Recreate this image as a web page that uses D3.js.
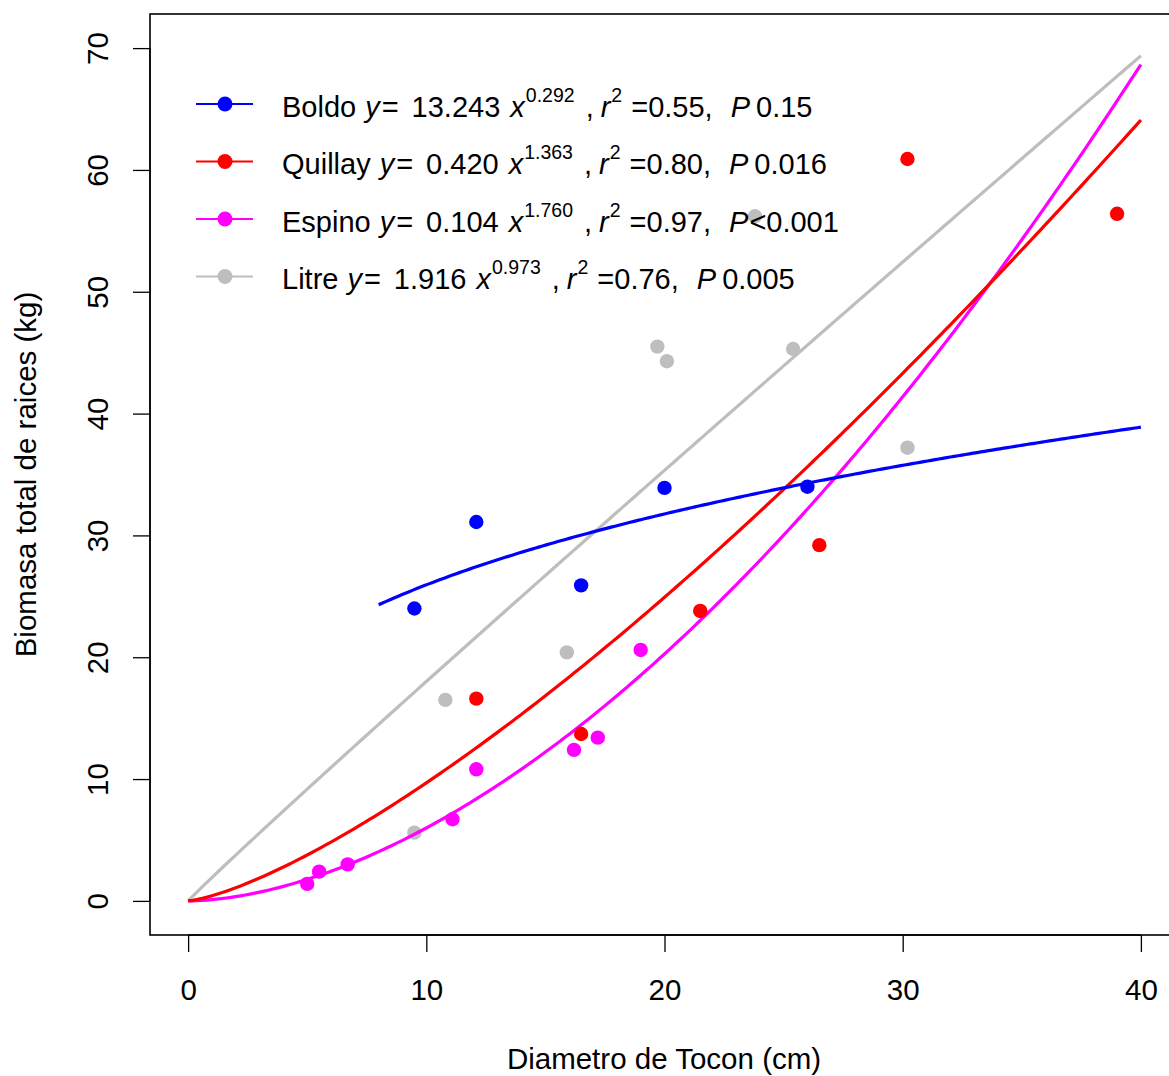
<!DOCTYPE html>
<html>
<head>
<meta charset="utf-8">
<script src="https://cdn.jsdelivr.net/npm/d3@7"></script>
<style>
  body { margin: 0; background: #fff; }
  svg { display: block; font-family: "Liberation Sans", Arial, sans-serif; }
  text { white-space: pre; }
</style>
</head>
<body>
<svg id="chart" width="1169" height="1076"></svg>
<script>
// Species, colours and power-law fits  y = a * x^b
const species = ["Boldo", "Quillay", "Espino", "Litre"];
const colors = ["#0000FF", "#FF0000", "#FF00FF", "#BEBEBE"];
const coefA = ["13.243", "0.420", "0.104", "1.916"];
const coefB = ["0.292", "1.363", "1.760", "0.973"];
const r2 = ["0.55", "0.80", "0.97", "0.76"];
const pText = ["0.15", "0.016", "<0.001", "0.005"];
const curveStart = [8, 0, 0, 0];
const curveEnd = [40, 40, 40, 40];

// Observations: stump diameter (cm) and total root biomass (kg)
const boldoX = [9.5, 12.1, 16.5, 20.0, 26.0];
const boldoY = [24.0, 31.1, 25.9, 33.9, 34.0];
const quillayX = [12.1, 16.5, 21.5, 26.5, 30.2, 39.0];
const quillayY = [16.6, 13.7, 23.8, 29.2, 60.9, 56.4];
const espinoX = [5.0, 5.5, 6.7, 11.1, 12.1, 16.2, 17.2, 19.0];
const espinoY = [1.4, 2.4, 3.0, 6.7, 10.8, 12.4, 13.4, 20.6];
const litreX = [9.5, 10.8, 15.9, 19.7, 20.1, 23.8, 25.4, 30.2];
const litreY = [5.6, 16.5, 20.4, 45.5, 44.3, 56.2, 45.3, 37.2];

const xTicks = [0, 10, 20, 30, 40];
const yTicks = [0, 10, 20, 30, 40, 50, 60, 70];

const obsX = [boldoX, quillayX, espinoX, litreX];
const obsY = [boldoY, quillayY, espinoY, litreY];

const FONT = "Liberation Sans, Arial, sans-serif";
const AXIS_FS = 29.5;
const LEG_FS = 29;

const svg = d3.select("#chart");
const x = d3.scaleLinear().domain([-1.6, 41.6]).range([150, 1179]);
const y = d3.scaleLinear().domain([-2.8, 72.8]).range([935, 14]);

// Plot frame
svg.append("rect")
  .attr("x", 150).attr("y", 14).attr("width", 1029).attr("height", 921)
  .attr("fill", "none").attr("stroke", "#000").attr("stroke-width", 1.6);

// Axes
const xAxis = svg.append("g").attr("transform", "translate(0,935)")
  .call(d3.axisBottom(x).tickValues(xTicks).tickSize(17).tickPadding(27).tickFormat(d3.format("d")));
xAxis.select(".domain").attr("d", `M${x(0)},0H${x(40)}`).attr("stroke-width", 1.3);
xAxis.selectAll("line").attr("stroke-width", 1.3);
xAxis.selectAll("text").attr("font-size", AXIS_FS).attr("font-family", FONT).attr("fill", "#000");

const yAxis = svg.append("g").attr("transform", "translate(150,0)")
  .call(d3.axisLeft(y).tickValues(yTicks).tickSize(17).tickFormat(d3.format("d")));
yAxis.select(".domain").attr("d", `M0,${y(0)}V${y(70)}`).attr("stroke-width", 1.3);
yAxis.selectAll("line").attr("stroke-width", 1.3);
yAxis.selectAll("text")
  .attr("font-size", AXIS_FS).attr("font-family", FONT).attr("fill", "#000")
  .attr("x", null).attr("dy", null)
  .attr("text-anchor", "middle")
  .attr("transform", "translate(-42,0) rotate(-90)");

// Axis titles
svg.append("text")
  .attr("x", 664).attr("y", 1069).attr("text-anchor", "middle")
  .attr("font-size", AXIS_FS).text("Diametro de Tocon (cm)");
svg.append("text")
  .attr("transform", `translate(36,${(y(0) + y(70)) / 2}) rotate(-90)`)
  .attr("text-anchor", "middle")
  .attr("font-size", AXIS_FS).text("Biomasa total de raices (kg)");

// Points and fitted curves, drawn back to front
const order = [3, 2, 1, 0];
const line = d3.line().x(d => x(d[0])).y(d => y(d[1]));
order.forEach(i => {
  const a = +coefA[i], b = +coefB[i];
  const g = svg.append("g");
  g.selectAll("circle")
    .data(obsX[i].map((v, k) => [v, obsY[i][k]]))
    .join("circle")
    .attr("cx", d => x(d[0])).attr("cy", d => y(d[1])).attr("r", 7.2)
    .attr("fill", colors[i]);
  const pts = d3.range(0, 201).map(k => {
    const xv = curveStart[i] + (curveEnd[i] - curveStart[i]) * k / 200;
    return [xv, a * Math.pow(xv, b)];
  });
  g.append("path").attr("d", line(pts))
    .attr("fill", "none").attr("stroke", colors[i]).attr("stroke-width", 3.2);
});

// Legend: symbol, then the fitted equation with superscript exponents
const legend = svg.append("g");
species.forEach((s, i) => {
  const cy = 104 + i * 57.5;
  legend.append("line").attr("x1", 196).attr("x2", 253).attr("y1", cy).attr("y2", cy)
    .attr("stroke", colors[i]).attr("stroke-width", 2);
  legend.append("circle").attr("cx", 225).attr("cy", cy).attr("r", 7.5).attr("fill", colors[i]);
  const t = legend.append("text").attr("x", 282).attr("y", cy + 12.5).attr("font-size", LEG_FS);
  const seg = (txt, dx, opts = {}) => {
    const ts = t.append("tspan").attr("dx", dx).text(txt);
    if (opts.it) ts.attr("font-style", "italic");
    if (opts.sup) ts.attr("font-size", 19.5);
    if (opts.dy) ts.attr("dy", opts.dy);
    return ts;
  };
  seg(s, 0);
  seg("y", 9, { it: true });
  seg("=", 2);
  seg(coefA[i], 13);
  seg("x", 10, { it: true });
  seg(coefB[i], 1, { sup: true, dy: -15 });
  seg(",", 11, { dy: 15 });
  seg("r", 7, { it: true });
  seg("2", 1, { sup: true, dy: -15 });
  seg("=" + r2[i] + ",", 9, { dy: 15 });
  seg("P", 18, { it: true });
  seg(pText[i], pText[i].startsWith("<") ? 1 : 6);
});
</script>
</body>
</html>
